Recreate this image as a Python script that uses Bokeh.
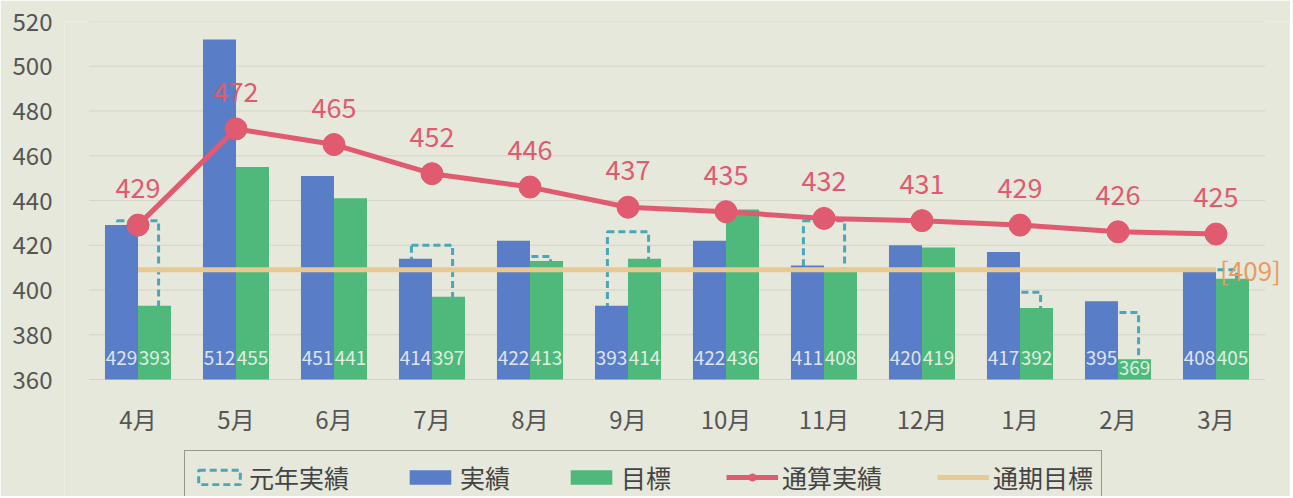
from bokeh.plotting import figure
from bokeh.models import ColumnDataSource, Legend, LegendItem, Label, FixedTicker, FactorRange
from bokeh.transform import dodge
from bokeh.core.properties import value
from bokeh.embed import file_html
from bokeh.resources import INLINE

# ---- data ----
months = ["4月", "5月", "6月", "7月", "8月", "9月", "10月", "11月", "12月", "1月", "2月", "3月"]
actual = [429, 512, 451, 414, 422, 393, 422, 411, 420, 417, 395, 408]          # 実績
target = [393, 455, 441, 397, 413, 414, 436, 408, 419, 392, 369, 405]          # 目標
prev_year = [431, 440, 430, 420, 415, 426, 418, 431, 415, 399, 390, 409]       # 元年実績
cumulative = [429, 472, 465, 452, 446, 437, 435, 432, 431, 429, 426, 425]      # 通算実績
annual_target = 409                                                           # 通期目標
y_ticks = [360, 380, 400, 420, 440, 460, 480, 500, 520]

# ---- style ----
BG = "#e5e8da"
FONT = "Noto Sans CJK JP"
BLUE = "#5a7dc7"
GREEN = "#4fb97c"
RED = "#e05a70"
DASH = "#4aa6b8"
TAN = "#e9c98e"
ORANGE = "#e99a62"
TEXT = "#555555"

# ---- layout geometry (pixels) ----
W, H = 1290, 496
LEFT, TOP = 64, 21
PLOT_BOTTOM_PX = 379            # pixel row of the lowest tick (360)
PAD = 0.25                      # category padding on each side
px_per_unit = (PLOT_BOTTOM_PX - TOP) / (y_ticks[-1] - y_ticks[0])
y_start = y_ticks[0] - (H - PLOT_BOTTOM_PX) / px_per_unit

src = ColumnDataSource(dict(
    month=months,
    actual=actual,
    target=target,
    prev=prev_year,
    cum=cumulative,
    actual_lbl=[str(v) for v in actual],
    target_lbl=[str(v) for v in target],
    cum_lbl=[str(v) for v in cumulative],
    base=[y_ticks[0]] * len(months),
    actual_lbl_y=[369.5 for v in actual],
    target_lbl_y=[369.5 if v >= 375 else 365 for v in target],
))

x_range = FactorRange(factors=months, range_padding=PAD, range_padding_units="absolute")
p = figure(
    x_range=x_range, y_range=(y_start, y_ticks[-1]),
    width=W, height=H,
    output_backend="svg", toolbar_location=None,
    min_border_left=LEFT, min_border_right=1, min_border_top=TOP, min_border_bottom=0,
    background_fill_color=BG, border_fill_color=BG,
)
p.outline_line_color = None
p.xgrid.grid_line_color = None
p.ygrid.grid_line_color = None
p.xaxis.visible = False

p.yaxis.ticker = FixedTicker(ticks=y_ticks)
p.yaxis.axis_line_color = None
p.yaxis.major_tick_line_color = None
p.yaxis.minor_tick_line_color = None
p.yaxis.major_label_text_color = TEXT
p.yaxis.major_label_text_font = FONT
p.yaxis.major_label_text_font_size = "24px"
p.yaxis.major_label_standoff = 6

# horizontal grid lines spanning the categories
grid_src = ColumnDataSource(dict(x0=[0] * len(y_ticks), x1=[len(months)] * len(y_ticks),
                                 y=y_ticks))
p.segment(x0="x0", x1="x1", y0="y", y1="y", source=grid_src, line_color="#d2d5c7", line_width=1)

bw = 0.337
# dashed outline of last year's figures, its bottom edge tucked behind the bars
r_prev = p.vbar(x="month", top="prev", bottom=y_ticks[0] + 3, width=0.42, source=src,
                fill_color=None, line_color=DASH, line_width=3, line_dash="7 4")
r_act = p.vbar(x=dodge("month", -bw / 2, range=p.x_range), top="actual", bottom=y_ticks[0],
               width=bw, source=src, fill_color=BLUE, line_color=None)
r_tgt = p.vbar(x=dodge("month", bw / 2, range=p.x_range), top="target", bottom=y_ticks[0],
               width=bw, source=src, fill_color=GREEN, line_color=None)

r_ann = p.line(x=[months[0], months[-1]], y=[annual_target, annual_target],
               line_color=TAN, line_width=5)

r_cum_line = p.line(x="month", y="cum", source=src, line_color=RED, line_width=5)
r_cum_pt = p.scatter(x="month", y="cum", source=src, size=22, fill_color=RED, line_color=RED)

p.text(x=dodge("month", -bw / 2, range=p.x_range), y="actual_lbl_y", text="actual_lbl", source=src,
       text_align="center", text_baseline="middle", text_font=value(FONT),
       text_font_size="19px", text_color="#dde4f3")
p.text(x=dodge("month", bw / 2, range=p.x_range), y="target_lbl_y", text="target_lbl", source=src,
       text_align="center", text_baseline="middle", text_font=value(FONT),
       text_font_size="19px", text_color="#dcefe0")
p.text(x="month", y="cum", text="cum_lbl", source=src, y_offset=-37,
       text_align="center", text_baseline="middle", text_font=value(FONT),
       text_font_size="27px", text_color=RED)

# month (category) labels under the baseline
p.text(x="month", y="base", text="month", source=src, y_offset=39,
       text_align="center", text_baseline="middle", text_font=value(FONT),
       text_font_size="24px", text_color=TEXT)

# centre of the last category in the categorical range's synthetic coordinates
p.add_layout(Label(x=len(months) - 0.5, y=annual_target, x_offset=4, text="[%d]" % annual_target,
                   text_align="left", text_baseline="middle", text_font=FONT,
                   text_font_size="26px", text_color=ORANGE))

legend = Legend(
    items=[
        LegendItem(label="元年実績", renderers=[r_prev]),
        LegendItem(label="実績", renderers=[r_act]),
        LegendItem(label="目標", renderers=[r_tgt]),
        LegendItem(label="通算実績", renderers=[r_cum_line, r_cum_pt]),
        LegendItem(label="通期目標", renderers=[r_ann]),
    ],
    orientation="horizontal",
    location=(184 - LEFT, -8),
    padding=8, spacing=55, label_standoff=4, margin=0,
    glyph_width=52, glyph_height=18,
    label_text_font=FONT, label_text_font_size="25px", label_text_color="#444444",
    border_line_color="#444444", border_line_width=1,
    background_fill_color=BG, background_fill_alpha=1.0,
)
p.add_layout(legend, "center")

open("out.html", "w").write(file_html(p, INLINE))
